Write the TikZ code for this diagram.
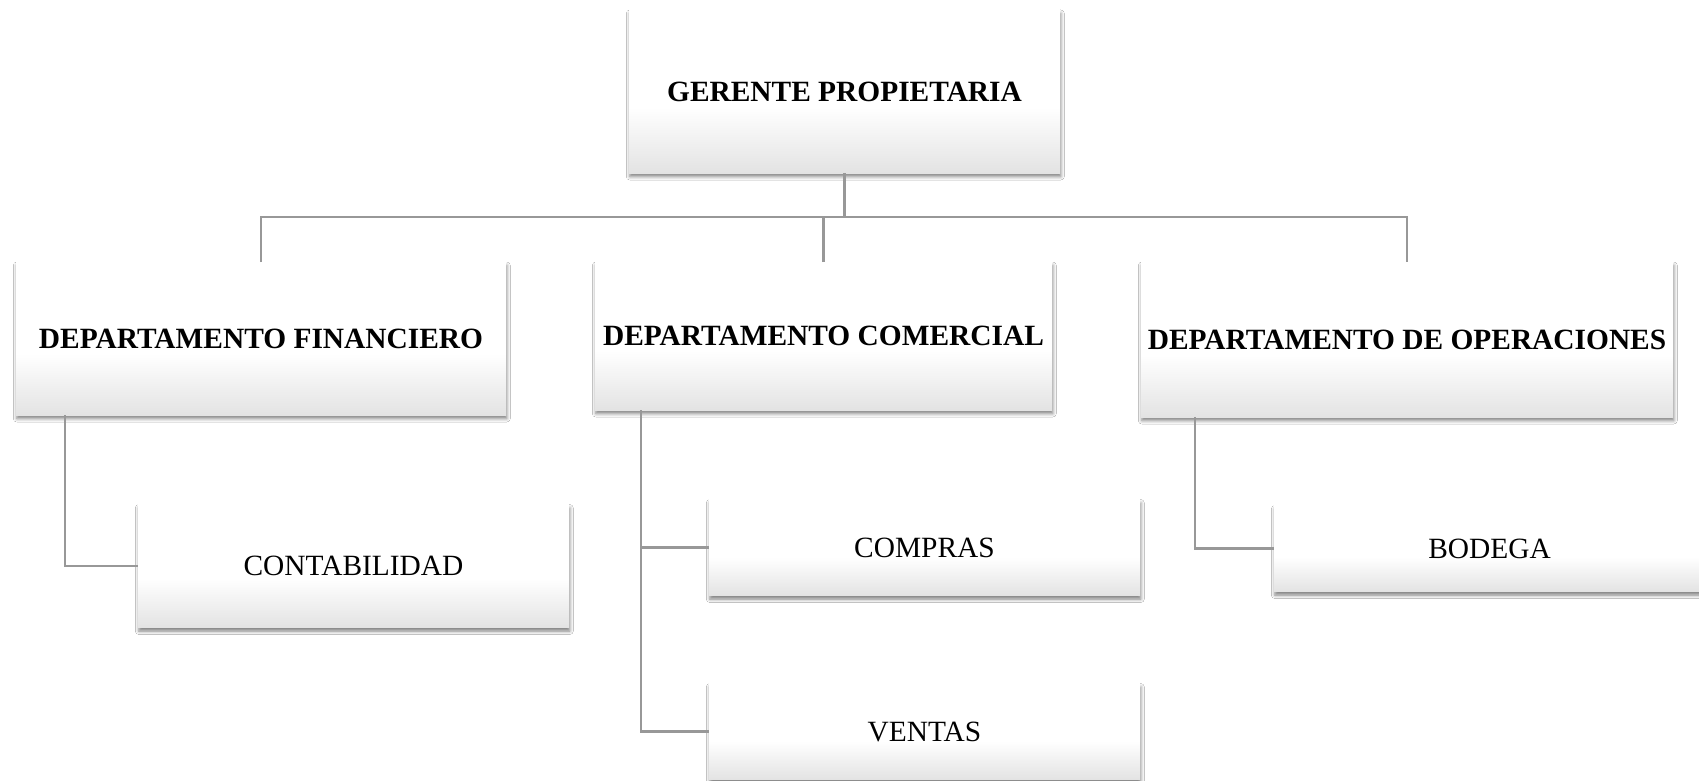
\documentclass[tikz,border=0pt]{standalone}
\usepackage{fontspec}
\setmainfont{Liberation Serif}
\usetikzlibrary{shadows.blur}
\pgfdeclareverticalshading{boxshade}{100bp}{color(0bp)=(black!11); color(25bp)=(black!11); color(45bp)=(white); color(100bp)=(white)}
\definecolor{conncol}{RGB}{152,152,152}
\tikzset{
  orgbox/.style={shading=boxshade, inner sep=0pt, outer sep=0pt,
    blur shadow={shadow xshift=0.8pt, shadow yshift=-3.5pt, shadow blur radius=3.5pt, shadow opacity=50},
    font=\fontsize{29.4}{34}\selectfont, align=center},
  headbox/.style={orgbox, font=\fontsize{29.4}{34}\selectfont\bfseries},
  conn/.style={draw=conncol, line width=2.8pt}
}
\begin{document}
\begin{tikzpicture}[x=1pt, y=-1pt]
\useasboundingbox (0,0) rectangle (1699,781);
\fill[white] (0,0) rectangle (1699,781);
\coordinate (bus) at (0,217);
\coordinate (fx) at (65,0);
\coordinate (cx) at (641,0);
\coordinate (ox) at (1195,0);

\node[headbox, minimum width=431pt, minimum height=163pt] (top) at (844.5,91.5) {GERENTE PROPIETARIA};
\node[headbox, minimum width=490pt, minimum height=153pt] (fin) at (261,338.5) {DEPARTAMENTO FINANCIERO};
\node[headbox, minimum width=457pt, minimum height=148pt] (com) at (823.5,336) {DEPARTAMENTO COMERCIAL};
\node[headbox, minimum width=532pt, minimum height=155pt] (ope) at (1407,339.5) {DEPARTAMENTO DE OPERACIONES};

\node[orgbox, minimum width=431pt, minimum height=123pt] (cont) at (353.5,566) {CONTABILIDAD};
\node[orgbox, minimum width=431pt, minimum height=96pt] (compras) at (924.5,547.5) {COMPRAS};
\node[orgbox, minimum width=431pt, minimum height=96pt] (ventas) at (924.5,731.5) {VENTAS};
\node[orgbox, minimum width=431pt, minimum height=86pt] (bodega) at (1489.5,548.5) {BODEGA};

\draw[conn] (top.south) -- (top.south |- bus);
\draw[conn] (fin.north) -- (fin.north |- bus) -- (ope.north |- bus) -- (ope.north);
\draw[conn] (com.north) -- (com.north |- bus);
\draw[conn] (fin.south -| fx) |- (cont.west);
\draw[conn] (com.south -| cx) |- (compras.west);
\draw[conn] (com.south -| cx) |- (ventas.west);
\draw[conn] (ope.south -| ox) |- (bodega.west);
\end{tikzpicture}
\end{document}
